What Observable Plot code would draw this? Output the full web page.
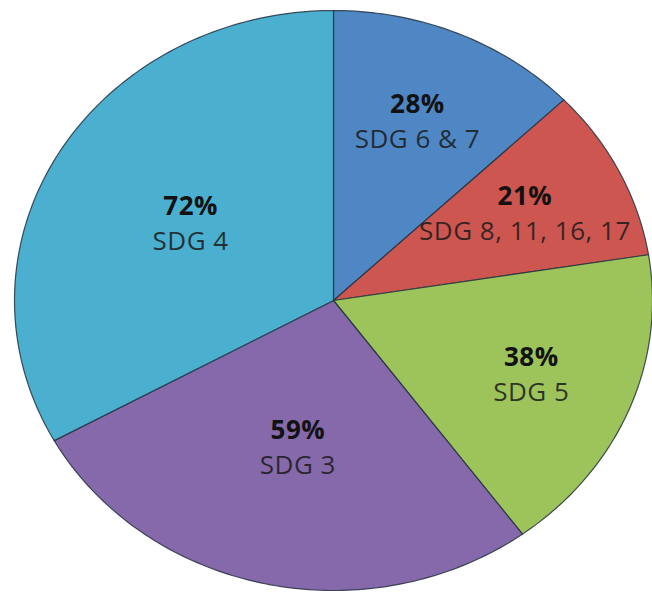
<!DOCTYPE html>
<html><head><meta charset="utf-8">
<script src="https://cdn.jsdelivr.net/npm/d3@7"></script>
<script src="https://cdn.jsdelivr.net/npm/@observablehq/plot@0.6"></script>
<style>body{margin:0;background:#fff} svg text{letter-spacing:0.5px}</style>
</head><body><div id="chart"></div>
<script>
const names = ["SDG 6 & 7", "SDG 8, 11, 16, 17", "SDG 5", "SDG 3", "SDG 4"];
const values = [28, 21, 38, 59, 72];
const colors = ["#4f86c4", "#cd5650", "#9dc35b", "#8669aa", "#4bafcf"];

const arcs = d3.pie().sort(null).value(d => d.value)(names.map((name, i) => ({name, value: values[i]})));
const outline = [];
for (const a of arcs) {
  const n = Math.max(2, Math.ceil((a.endAngle - a.startAngle) / (Math.PI / 180)));
  outline.push({name: a.data.name, x: 0, y: 0});
  for (let k = 0; k <= n; k++) {
    const t = a.startAngle + (a.endAngle - a.startAngle) * k / n;
    outline.push({name: a.data.name, x: Math.sin(t), y: Math.cos(t)});
  }
}
const labels = arcs.map(a => {
  const m = (a.startAngle + a.endAngle) / 2;
  const r = (a.endAngle - a.startAngle) > Math.PI / 2 ? 0.52 : 0.67;
  return {name: a.data.name, pct: a.data.value + "%", x: r * Math.sin(m), y: r * Math.cos(m)};
});

const chart = Plot.plot({
  width: 652, height: 594, margin: 0,
  x: {domain: [-1, 1], range: [14, 652], axis: null},
  y: {domain: [-1, 1], range: [590, 10], axis: null},
  color: {domain: names, range: colors},
  style: {background: "white", fontFamily: "'Open Sans', sans-serif"},
  marks: [
    Plot.line(outline, {x: "x", y: "y", z: "name", fill: "name", stroke: "#25323f", strokeOpacity: 0.85, strokeWidth: 1.2, curve: "linear-closed"}),
    Plot.text(labels, {x: "x", y: "y", text: "pct", dy: -17, fontSize: 26, fontWeight: "bold", fill: "#121212"}),
    Plot.text(labels, {x: "x", y: "y", text: "name", dy: 18, fontSize: 26, fill: "#1a1a1a", fillOpacity: 0.85})
  ]
});
document.getElementById("chart").appendChild(chart);
</script>
</body></html>
